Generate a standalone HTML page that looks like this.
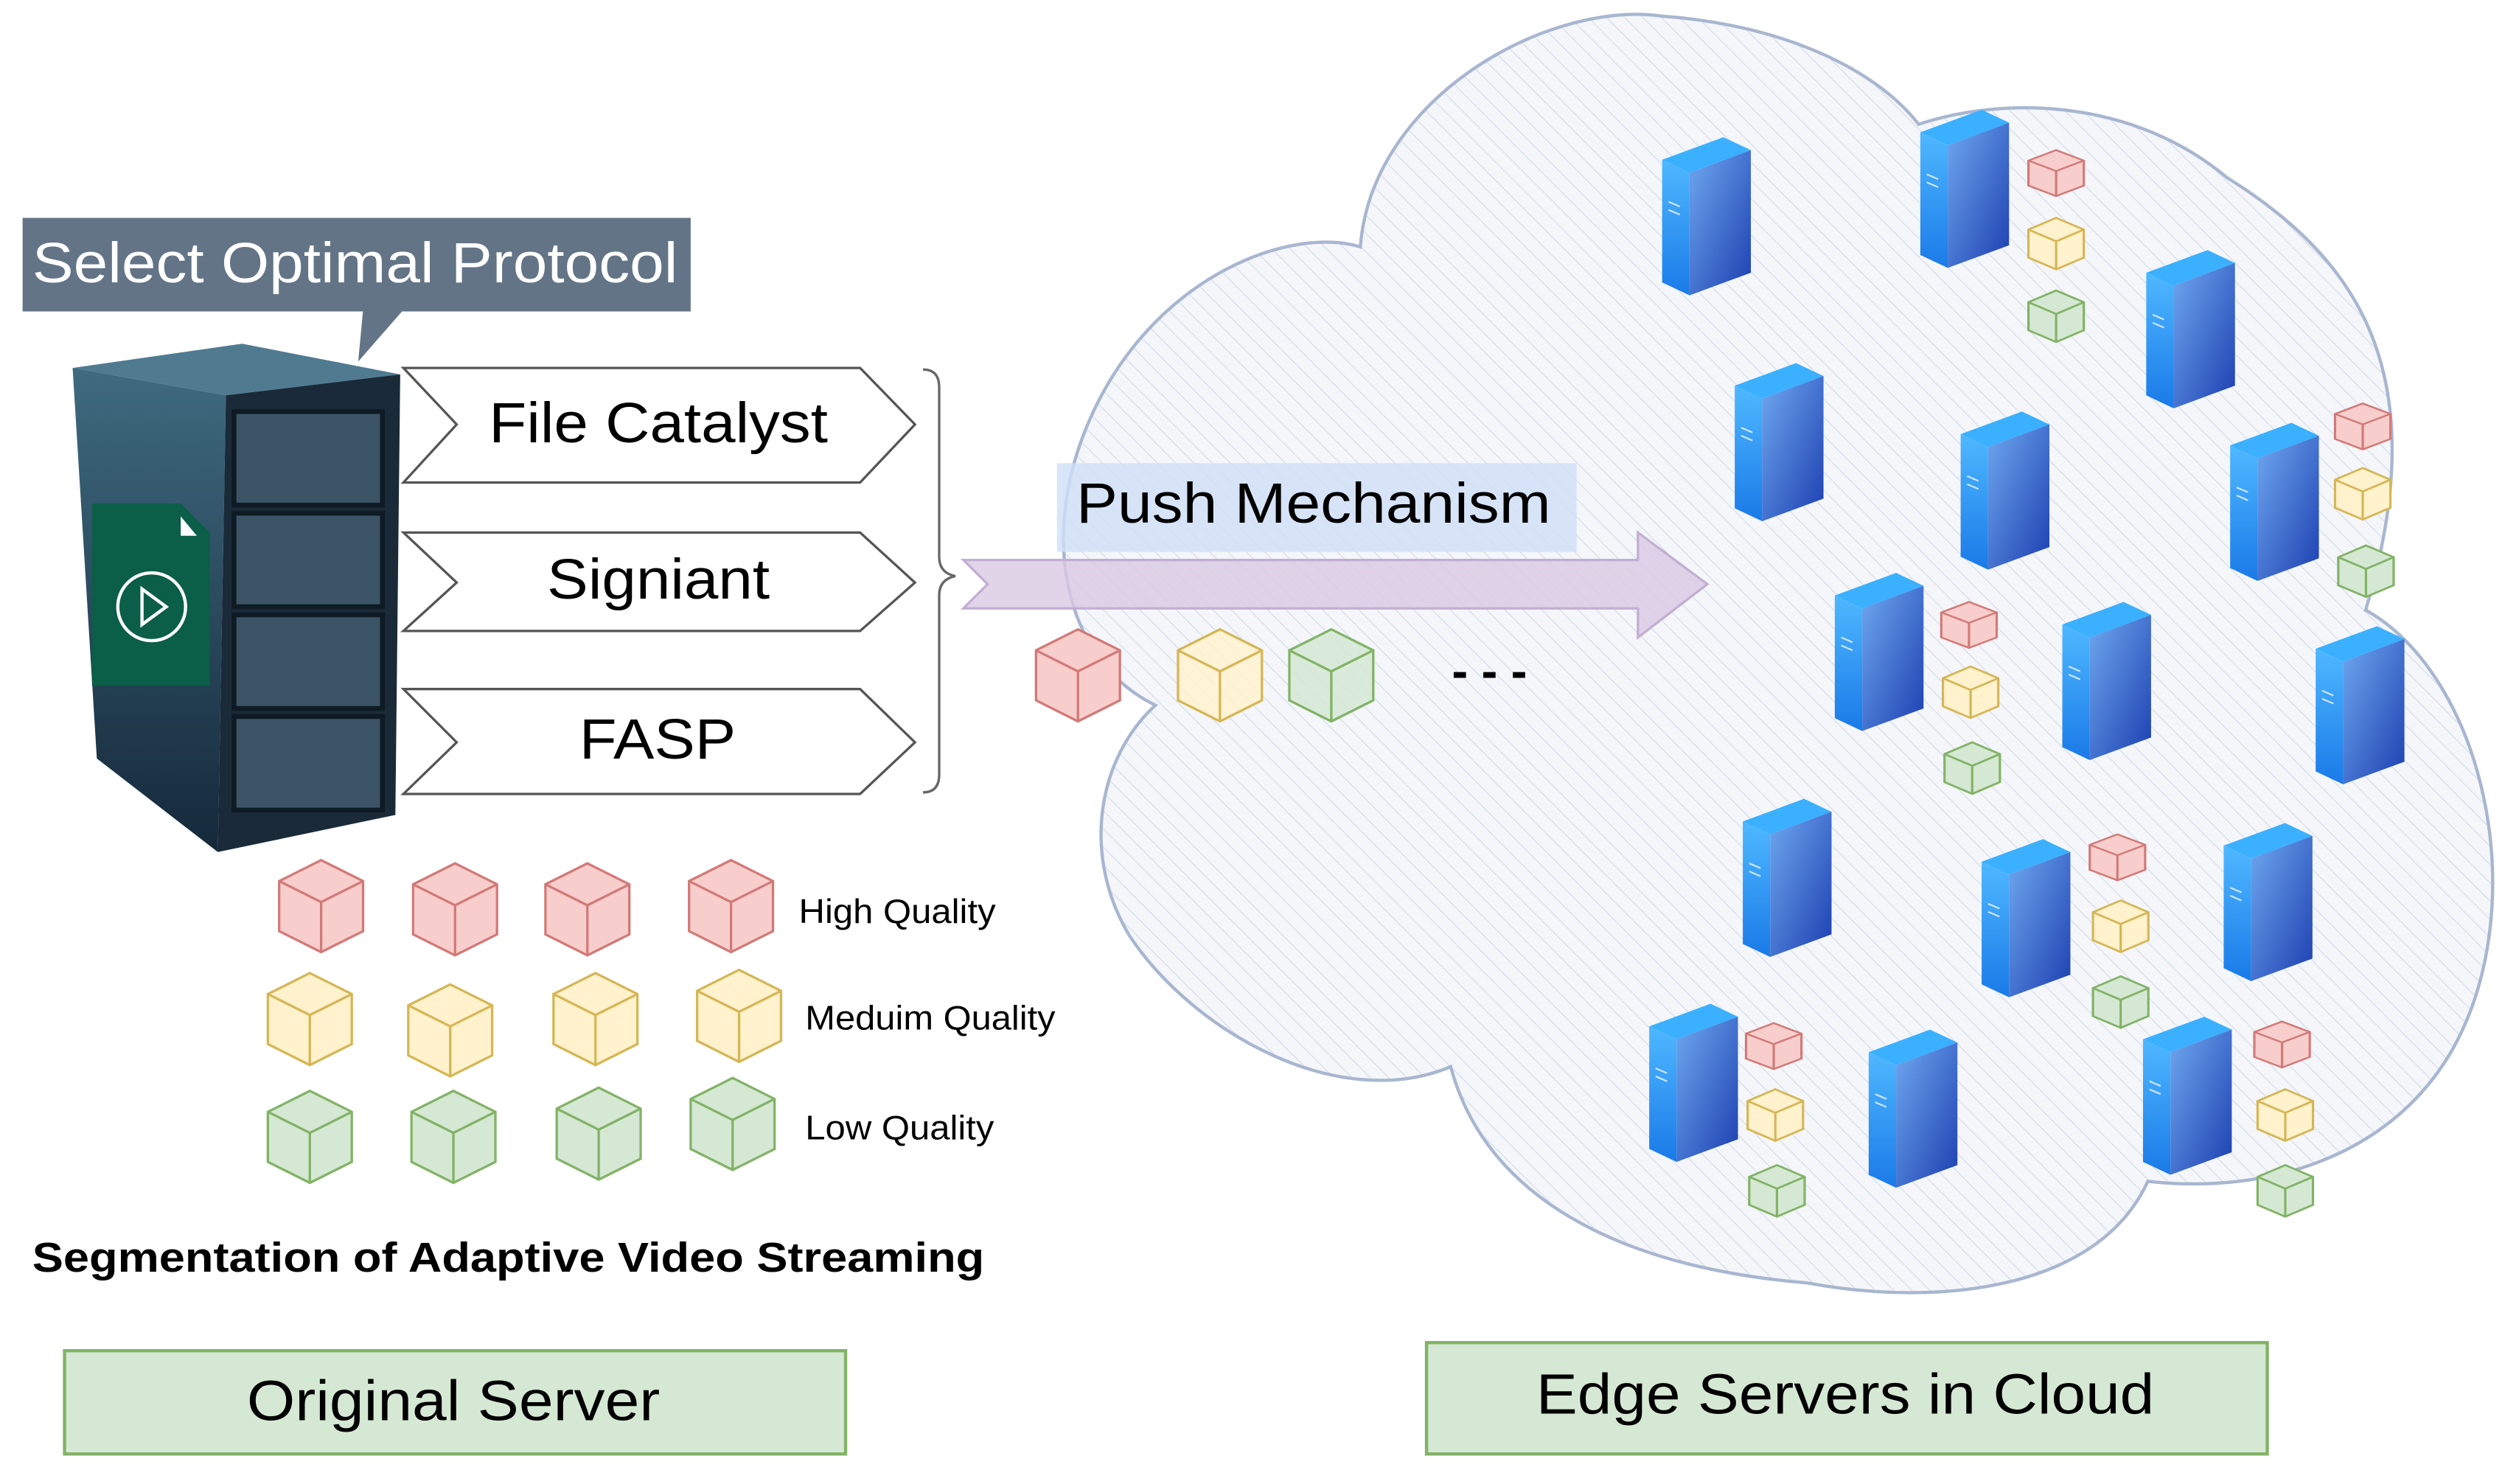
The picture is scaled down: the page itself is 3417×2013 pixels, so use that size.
<!DOCTYPE html>
<html><head><meta charset="utf-8"><style>
html,body{margin:0;padding:0;background:#fff}
svg{display:block}
text{font-family:"Liberation Sans",Arial,sans-serif}
</style></head><body>
<svg width="3417" height="2013" viewBox="0 0 1561 919.6" xmlns="http://www.w3.org/2000/svg">
<defs>
<pattern id="hatch" width="8" height="8" patternUnits="userSpaceOnUse" patternTransform="rotate(-45)">
<rect width="8" height="8" fill="#f4f6fa"/><line x1="0" y1="0" x2="0" y2="8" stroke="#d3dae6" stroke-width="1"/>
</pattern>
<linearGradient id="tf" x1="0" y1="0" x2="1" y2="1"><stop offset="0" stop-color="#6fa8f0"/><stop offset="1" stop-color="#1c3fb0"/></linearGradient>
<linearGradient id="tl" x1="0" y1="0" x2="0" y2="1"><stop offset="0" stop-color="#4fb8ff"/><stop offset="1" stop-color="#1a7ae8"/></linearGradient>
<linearGradient id="rk" x1="0" y1="0" x2="0" y2="1"><stop offset="0" stop-color="#3f6a80"/><stop offset="1" stop-color="#15293a"/></linearGradient>
<g id="tower">
<polygon points="0,14 38,0 55,8 17,22" fill="#3ab0ff"/>
<polygon points="0,14 17,22 17,98 0,90" fill="url(#tl)"/>
<polygon points="17,22 55,8 55,84 17,98" fill="url(#tf)"/>
<line x1="4" y1="40" x2="11" y2="43" stroke="#cfe6ff" stroke-width="1"/>
<line x1="4" y1="45" x2="11" y2="48" stroke="#cfe6ff" stroke-width="1"/>
</g>
<g id="cube">
<polygon points="26,0 52,13 52,44 26,57 0,44 0,13"/>
<polyline points="0,13 26,26 52,13" fill="none"/>
<line x1="26" y1="26" x2="26" y2="57"/>
</g>
</defs>

<path d="M843,153 C850,60 960,0 1030,10 C1100,15 1160,40 1189,77 C1240,60 1320,60 1380,110 C1460,160 1510,230 1466,378 C1540,420 1570,560 1520,650 C1480,720 1400,740 1331,732 C1300,800 1200,810 1120,795 C1000,785 920,740 899,661 C830,690 740,640 700,580 C670,530 680,470 716,437 C660,410 640,330 680,250 C720,170 800,140 843,153 Z" fill="url(#hatch)" stroke="#a8b6d0" stroke-width="2"/>

<polygon points="225,192 250,192 222,224" fill="#647487"/>
<rect x="14" y="135" width="414" height="58" fill="#647487"/>
<text x="20" y="175" font-size="35" fill="#fff" textLength="400" lengthAdjust="spacingAndGlyphs">Select Optimal Protocol</text>

<polygon points="45,228 150,213 248,232 140,245" fill="#4f7a90"/>
<polygon points="45,228 140,245 135,528 60,470" fill="url(#rk)"/>
<polygon points="140,245 248,232 245,505 135,528" fill="#1a2a38"/>
<g fill="#3c5566" stroke="#0e1a24" stroke-width="3">
<rect x="145" y="255" width="92" height="58"/>
<rect x="145" y="318" width="92" height="58"/>
<rect x="145" y="381" width="92" height="58"/>
<rect x="145" y="444" width="92" height="58"/>
</g>
<polygon points="57,312 112,312 130,330 130,425 57,425" fill="#0b5e47"/>
<polygon points="112,320 122,332 112,332" fill="#fff"/>
<circle cx="94" cy="376" r="21" fill="none" stroke="#fff" stroke-width="2"/>
<polygon points="88,365 88,387 103,376" fill="none" stroke="#fff" stroke-width="2"/>

<g fill="#fff" stroke="#555" stroke-width="1.5">
<polygon points="250,228 533,228 567,263 533,299 250,299 283,263"/>
<polygon points="250,330 533,330 567,361 533,391 250,391 283,361"/>
<polygon points="250,427 533,427 567,460 533,492 250,492 283,460"/>
</g>
<g font-size="35">
<text x="303" y="274" textLength="210" lengthAdjust="spacingAndGlyphs">File Catalyst</text>
<text x="339" y="371" textLength="138" lengthAdjust="spacingAndGlyphs">Signiant</text>
<text x="359" y="470" textLength="97" lengthAdjust="spacingAndGlyphs">FASP</text>
</g>
<path d="M572,229 Q582,229 582,240 L582,345 Q582,355 592,357 Q582,359 582,369 L582,480 Q582,491 572,491" fill="none" stroke="#666" stroke-width="1.5"/>

<polygon points="597,347 1015,347 1015,330 1058,362 1015,395 1015,377 597,377 612,362" fill="#d9c9e3" fill-opacity="0.8" stroke="#c2aed3" stroke-width="1.5"/>
<rect x="655" y="287" width="322" height="55" fill="#cfe0f8" fill-opacity="0.8"/>
<text x="667" y="324" font-size="35" textLength="294" lengthAdjust="spacingAndGlyphs">Push Mechanism</text>

<use href="#cube" transform="translate(642,390)" fill="#f8cecc" stroke="#d27a78" stroke-width="1.5"/>
<use href="#cube" transform="translate(730,390)" fill="#fff2cc" fill-opacity="0.85" stroke="#d6b656" stroke-width="1.5"/>
<use href="#cube" transform="translate(799,390)" fill="#d5e8d4" fill-opacity="0.85" stroke="#82b366" stroke-width="1.5"/>
<text x="923" y="426" font-size="30" text-anchor="middle" font-weight="bold">- - -</text>

<g stroke-width="1.5">
<g fill="#f8cecc" stroke="#d27a78">
<use href="#cube" transform="translate(173,533)"/><use href="#cube" transform="translate(256,535)"/><use href="#cube" transform="translate(338,535)"/><use href="#cube" transform="translate(427,533)"/>
</g>
<g fill="#fff2cc" stroke="#d6b656">
<use href="#cube" transform="translate(166,603)"/><use href="#cube" transform="translate(253,610)"/><use href="#cube" transform="translate(343,603)"/><use href="#cube" transform="translate(432,601)"/>
</g>
<g fill="#d5e8d4" stroke="#82b366">
<use href="#cube" transform="translate(166,676)"/><use href="#cube" transform="translate(255,676)"/><use href="#cube" transform="translate(345,674)"/><use href="#cube" transform="translate(428,668)"/>
</g>
</g>
<g font-size="21">
<text x="495" y="572" textLength="122" lengthAdjust="spacingAndGlyphs">High Quality</text>
<text x="499" y="638" textLength="155" lengthAdjust="spacingAndGlyphs">Meduim Quality</text>
<text x="499" y="706" textLength="117" lengthAdjust="spacingAndGlyphs">Low Quality</text>
</g>
<text x="20" y="788" font-size="26" font-weight="bold" textLength="590" lengthAdjust="spacingAndGlyphs">Segmentation of Adaptive Video Streaming</text>

<use href="#tower" x="1030" y="85"/>
<use href="#tower" x="1190" y="68"/>
<use href="#tower" x="1330" y="155"/>
<use href="#tower" x="1075" y="225"/>
<use href="#tower" x="1215" y="255"/>
<use href="#tower" x="1382" y="262"/>
<use href="#tower" x="1137" y="355"/>
<use href="#tower" x="1278" y="373"/>
<use href="#tower" x="1435" y="388"/>
<use href="#tower" x="1080" y="495"/>
<use href="#tower" x="1228" y="520"/>
<use href="#tower" x="1378" y="510"/>
<use href="#tower" x="1022" y="622"/>
<use href="#tower" x="1158" y="638"/>
<use href="#tower" x="1328" y="630"/>

<g stroke-width="2.2">
<g transform="translate(1257,93) scale(0.66,0.5)"><use href="#cube" fill="#f8cecc" stroke="#d27a78"/></g>
<g transform="translate(1257,135) scale(0.66,0.56)"><use href="#cube" fill="#fff2cc" stroke="#d6b656"/></g>
<g transform="translate(1257,180) scale(0.66,0.56)"><use href="#cube" fill="#d5e8d4" stroke="#82b366"/></g>
<g transform="translate(1447,250) scale(0.66,0.5)"><use href="#cube" fill="#f8cecc" stroke="#d27a78"/></g>
<g transform="translate(1447,290) scale(0.66,0.56)"><use href="#cube" fill="#fff2cc" stroke="#d6b656"/></g>
<g transform="translate(1449,338) scale(0.66,0.56)"><use href="#cube" fill="#d5e8d4" stroke="#82b366"/></g>
<g transform="translate(1203,373) scale(0.66,0.5)"><use href="#cube" fill="#f8cecc" stroke="#d27a78"/></g>
<g transform="translate(1204,413) scale(0.66,0.56)"><use href="#cube" fill="#fff2cc" stroke="#d6b656"/></g>
<g transform="translate(1205,460) scale(0.66,0.56)"><use href="#cube" fill="#d5e8d4" stroke="#82b366"/></g>
<g transform="translate(1295,517) scale(0.66,0.5)"><use href="#cube" fill="#f8cecc" stroke="#d27a78"/></g>
<g transform="translate(1297,558) scale(0.66,0.56)"><use href="#cube" fill="#fff2cc" stroke="#d6b656"/></g>
<g transform="translate(1297,605) scale(0.66,0.56)"><use href="#cube" fill="#d5e8d4" stroke="#82b366"/></g>
<g transform="translate(1082,634) scale(0.66,0.5)"><use href="#cube" fill="#f8cecc" stroke="#d27a78"/></g>
<g transform="translate(1083,675) scale(0.66,0.56)"><use href="#cube" fill="#fff2cc" stroke="#d6b656"/></g>
<g transform="translate(1084,722) scale(0.66,0.56)"><use href="#cube" fill="#d5e8d4" stroke="#82b366"/></g>
<g transform="translate(1397,633) scale(0.66,0.5)"><use href="#cube" fill="#f8cecc" stroke="#d27a78"/></g>
<g transform="translate(1399,675) scale(0.66,0.56)"><use href="#cube" fill="#fff2cc" stroke="#d6b656"/></g>
<g transform="translate(1399,722) scale(0.66,0.56)"><use href="#cube" fill="#d5e8d4" stroke="#82b366"/></g>
</g>

<rect x="40" y="837" width="484" height="64" fill="#d5e8d4" stroke="#82b366" stroke-width="2"/>
<text x="153" y="880" font-size="35" textLength="256" lengthAdjust="spacingAndGlyphs">Original Server</text>
<rect x="884" y="832" width="521" height="69" fill="#d5e8d4" stroke="#82b366" stroke-width="2"/>
<text x="952" y="876" font-size="35" textLength="383" lengthAdjust="spacingAndGlyphs">Edge Servers in Cloud</text>
</svg>
</body></html>
